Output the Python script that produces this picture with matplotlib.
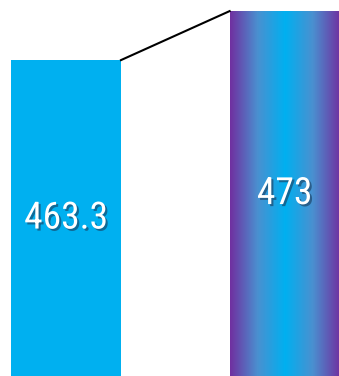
import matplotlib
matplotlib.use("Agg")
import matplotlib.pyplot as plt
import matplotlib.patheffects as pe
import numpy as np
from matplotlib.colors import LinearSegmentedColormap

categories = ["A", "B"]
values = [463.3, 473]
labels = ["463.3", "473"]

fig = plt.figure(figsize=(3.39, 3.76), dpi=100)
ax = fig.add_axes([0, 0, 1, 1])
ymin, ymax = 400.75, 475.2
ax.set_xlim(-0.302, 1.249)
ax.set_ylim(ymin, ymax)
ax.axis("off")

w = 0.503
x = np.arange(len(values))
bars = ax.bar(x, [v - ymin for v in values], bottom=ymin, width=w, color="#00b0f0", zorder=2)

# gradient for second bar
cmap = LinearSegmentedColormap.from_list("g", ["#7030a0", "#4a90d0", "#00b0f0", "#4a90d0", "#7030a0"])
grad = np.linspace(0, 1, 256).reshape(1, -1)
b = bars[1]
b.set_facecolor("none")
im = ax.imshow(grad, cmap=cmap, aspect="auto",
               extent=[x[1] - w / 2, x[1] + w / 2, ymin, values[1]], zorder=2)
ax.set_xlim(-0.302, 1.249)
ax.set_ylim(ymin, ymax)

# connector line
ax.plot([x[0] + w / 2, x[1] - w / 2], [values[0], values[1]], color="black", lw=1.5, zorder=3)

fam = ["Liberation Sans Narrow", "Roboto Condensed", "DejaVu Sans"]
for xi, v, lab in zip(x, values, labels):
    ax.text(xi, (ymin + v) / 2, lab, ha="center", va="center", color="white",
            fontsize=27, family=fam, zorder=4,
            path_effects=[pe.withSimplePatchShadow(offset=(1.5, -1.5), shadow_rgbFace="#1a3a5a", alpha=0.6)])

fig.savefig("out.png", dpi=100)
